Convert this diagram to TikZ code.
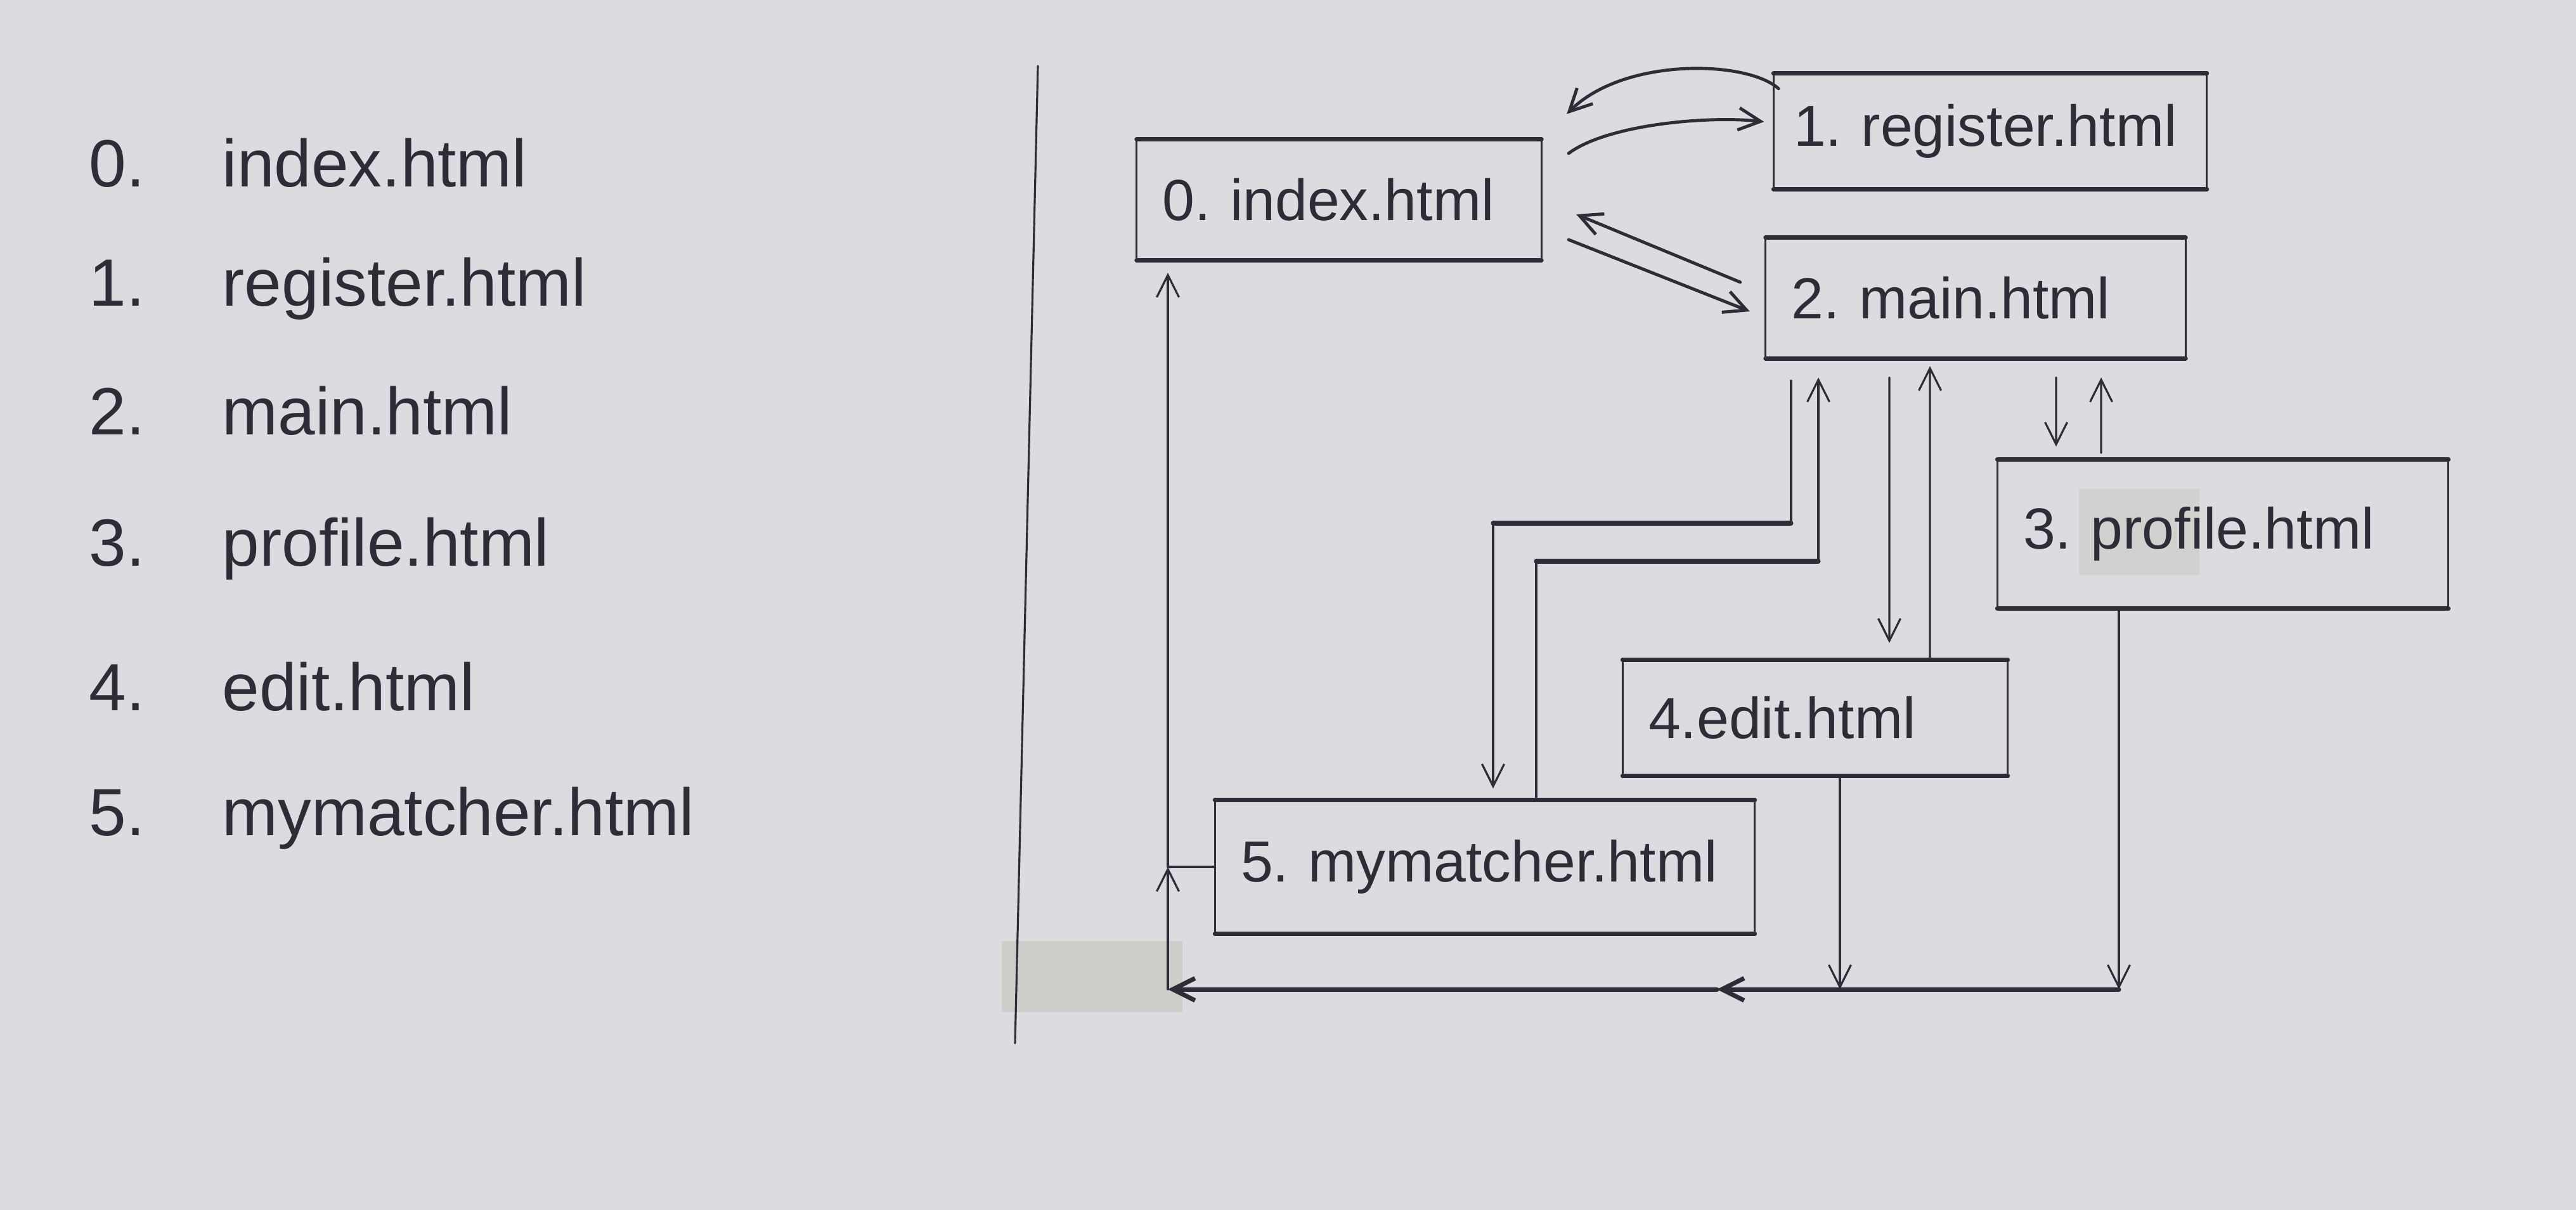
\documentclass[tikz,border=0pt]{standalone}
\usepackage{fontspec}
\setmainfont{Liberation Sans}
\usetikzlibrary{arrows.meta,calc}
\definecolor{paper}{RGB}{219,219,224}
\definecolor{pen}{RGB}{45,45,55}
\definecolor{tape}{RGB}{198,202,192}

\begin{document}
\begin{tikzpicture}[
    hl/.style={draw=pen, line width=2pt, line cap=round},
    cl/.style={draw=pen, line width=1.4pt, line cap=round},
    vl/.style={draw=pen, line width=0.9pt, line cap=round},
    arr/.style={-{Straight Barb[length=3.5mm,width=3.5mm]}},
    pagebox/.style={inner xsep=4mm, inner ysep=0pt, align=left, text=pen, font=\fontsize{26}{30}\selectfont},
    listtext/.style={anchor=base west, inner sep=0pt, text=pen, font=\fontsize{30}{36}\selectfont}
]
    \fill[paper] (0,0) rectangle (40.63,-19.08);
    \useasboundingbox (0,0) rectangle (40.63,-19.08);
    \fill[tape, opacity=0.7] (15.8,-14.84) rectangle (18.65,-15.96);
    \fill[tape, opacity=0.5] (32.79,-7.71) rectangle (34.69,-9.07);

    % list of pages
    \foreach \i/\y/\page in {0/2.94/index.html,1/4.82/register.html,2/6.85/main.html,
                             3/8.92/profile.html,4/11.2/edit.html,5/13.17/mymatcher.html}
        {\node[listtext] (num\i) at (1.4,-\y) {\i.};
         \node[listtext] (item\i) at (3.5,-\y) {\page};}

    \draw[vl] (16.37,-1.04) -- (16.01,-16.45);

    % pages
    \node[pagebox, text width=5.57cm, minimum height=1.89cm] (idx) at (21.12,-3.15) {\mbox{0.~index.html}};
    \node[pagebox, text width=6.2cm, inner xsep=3.1mm, minimum height=1.81cm] (reg) at (31.39,-2.07) {\mbox{1.~register.html}};
    \node[pagebox, text width=5.81cm, minimum height=1.89cm] (mainp) at (31.16,-4.70) {\mbox{2.~main.html}};
    \node[pagebox, text width=6.30cm, minimum height=2.34cm] (prof) at (35.06,-8.42) {\mbox{3.~profile.html}};
    \node[pagebox, text width=5.26cm, minimum height=1.81cm] (edit) at (28.63,-11.32) {\mbox{4.edit.html}};
    \node[pagebox, text width=7.70cm, minimum height=2.10cm] (mym) at (23.42,-13.67) {\mbox{5.~mymatcher.html}};

    \foreach \n in {idx,reg,mainp,prof,edit,mym}
        {\draw[hl] (\n.north west) -- (\n.north east);
         \draw[hl] (\n.south west) -- (\n.south east);
         \draw[vl] (\n.north west) -- (\n.south west);
         \draw[vl] (\n.north east) -- (\n.south east);}

    % index <-> register
    \draw[cl,arr] ($(reg.north west)+(0.08,-0.24)$) .. controls +(-0.5,0.45) and +(0.9,0.9) .. ($(idx.north east)+(0.4,0.4)$);
    \draw[cl,arr] ($(idx.north east)+(0.43,-0.22)$) .. controls +(0.6,0.45) and +(-0.9,0.1) .. ($(reg.west)+(-0.15,0.15)$);

    % index <-> main
    \draw[cl,arr] ($(mainp.west)+(-0.4,0.25)$) -- ($(idx.east)+(0.55,-0.23)$);
    \draw[cl,arr] ($(idx.east)+(0.43,-0.63)$) -- ($(mainp.west)+(-0.25,-0.21)$);

    % main <-> mymatcher
    \coordinate (a1) at (28.25,-8.25);
    \coordinate (b1) at (28.68,-8.85);
    \draw[vl,arr] ($(a1 |- mainp.south)+(0,-0.35)$) -- (a1) -| ($(mym.north)+(0.13,0.18)$);
    \draw[vl,arr] ($(mym.north)+(0.81,0)$) |- (b1) -- ($(b1 |- mainp.south)+(0,-0.3)$);
    \draw[hl] (a1) -- ($(a1 -| mym.north)+(0.13,0)$);
    \draw[hl] (b1) -- ($(b1 -| mym.north)+(0.81,0)$);

    % main <-> edit, main <-> profile
    \draw[vl,arr] ($(mainp.south)+(-1.36,-0.3)$) -- ($(edit.north)+(1.17,0.27)$);
    \draw[vl,arr] ($(edit.north)+(1.81,0)$) -- ($(mainp.south)+(-0.72,-0.12)$);
    \draw[vl,arr] ($(mainp.south)+(1.27,-0.3)$) -- ($(prof.north)+(-2.63,0.2)$);
    \draw[vl,arr] ($(prof.north)+(-1.92,0.1)$) -- ($(mainp.south)+(1.98,-0.3)$);

    % back to index
    \coordinate (br) at (33.42,-15.6);
    \coordinate (ej) at (29.02,-15.6);
    \coordinate (mid) at (27.08,-15.6);
    \coordinate (bl) at (18.42,-15.6);
    \draw[vl,arr] (br |- prof.south) -- (br);
    \draw[vl,arr] (ej |- edit.south) -- (ej);
    \draw[hl,arr] (br) -- (mid);
    \draw[hl,arr] (mid) -- (bl);
    \draw[vl,arr] (bl) -- (bl |- mym.west);
    \draw[vl] (mym.west) -- (bl |- mym.west);
    \draw[vl,arr] (bl |- mym.west) -- ($(bl |- idx.south)+(0,-0.2)$);
\end{tikzpicture}
\end{document}
